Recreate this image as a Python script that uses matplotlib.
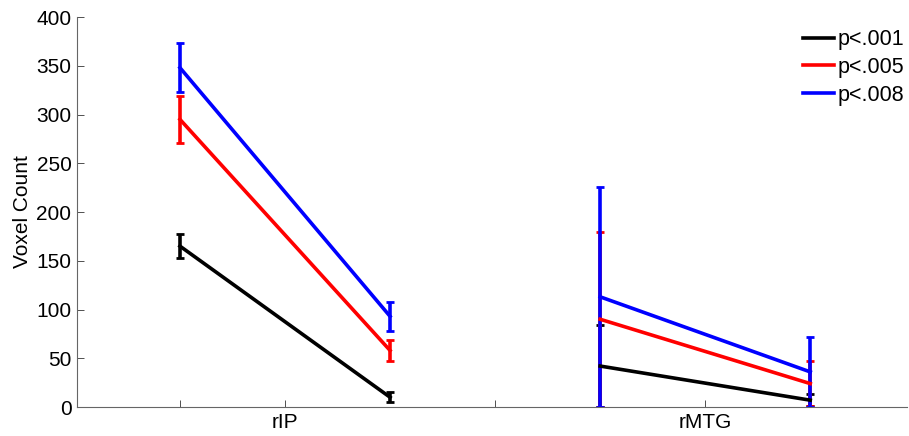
import numpy as np
import matplotlib
matplotlib.use('Agg')
import matplotlib.pyplot as plt

plt.rcParams['font.family'] = ['Liberation Sans', 'DejaVu Sans']

# x positions: two points per region
x_rip = [0, 2]
x_rmtg = [4, 6]
tick_pos = [0, 1, 3, 5]
tick_labels = ['', 'rIP', '', 'rMTG']

labels = ['p<.001', 'p<.005', 'p<.008']
colors = ['black', 'red', 'blue']

# means per threshold: [left point, right point]
rip_mean = [[165, 10], [295, 58], [348, 93]]
rip_err = [[12, 5], [24, 11], [25, 15]]
rmtg_mean = [[42, 7], [90, 24], [113, 36]]
rmtg_err = [[42, 6], [90, 23], [113, 36]]

fig = plt.figure(figsize=(9.09, 4.36), dpi=100)
ax = fig.add_axes([0.0847, 0.0665, 0.913, 0.8945])

for i in range(3):
    ax.errorbar(x_rip, rip_mean[i], yerr=rip_err[i], color=colors[i], lw=2.6,
                capsize=3, capthick=2, elinewidth=2.6, label=labels[i])
    ax.errorbar(x_rmtg, rmtg_mean[i], yerr=rmtg_err[i], color=colors[i], lw=2.6,
                capsize=3, capthick=2, elinewidth=2.6)

ax.set_xlim(-0.98, 6.92)
ax.set_ylim(0, 400)
ax.set_yticks(np.arange(0, 401, 50))
ax.set_xticks(tick_pos)
ax.set_xticklabels(tick_labels)
ax.set_ylabel('Voxel Count', fontsize=15, labelpad=3)
ax.tick_params(direction='in', length=5, width=0.6, colors='#333333', labelsize=15,
               labelcolor='black', pad=4)
for s in ['top', 'right']:
    ax.spines[s].set_visible(False)
for s in ['left', 'bottom']:
    ax.spines[s].set_color('#666666')
    ax.spines[s].set_linewidth(0.8)

# legend: one entry per threshold
handles, labs = ax.get_legend_handles_labels()
handles = [h[0] for h in handles]
ax.legend(handles, labs, loc='upper right', bbox_to_anchor=(1.004, 0.953),
          bbox_transform=fig.transFigure, frameon=False,
          fontsize=15.5, handlelength=1.45, handletextpad=0.15, labelspacing=0.32,
          borderaxespad=0)

fig.savefig('out.png', dpi=100)
